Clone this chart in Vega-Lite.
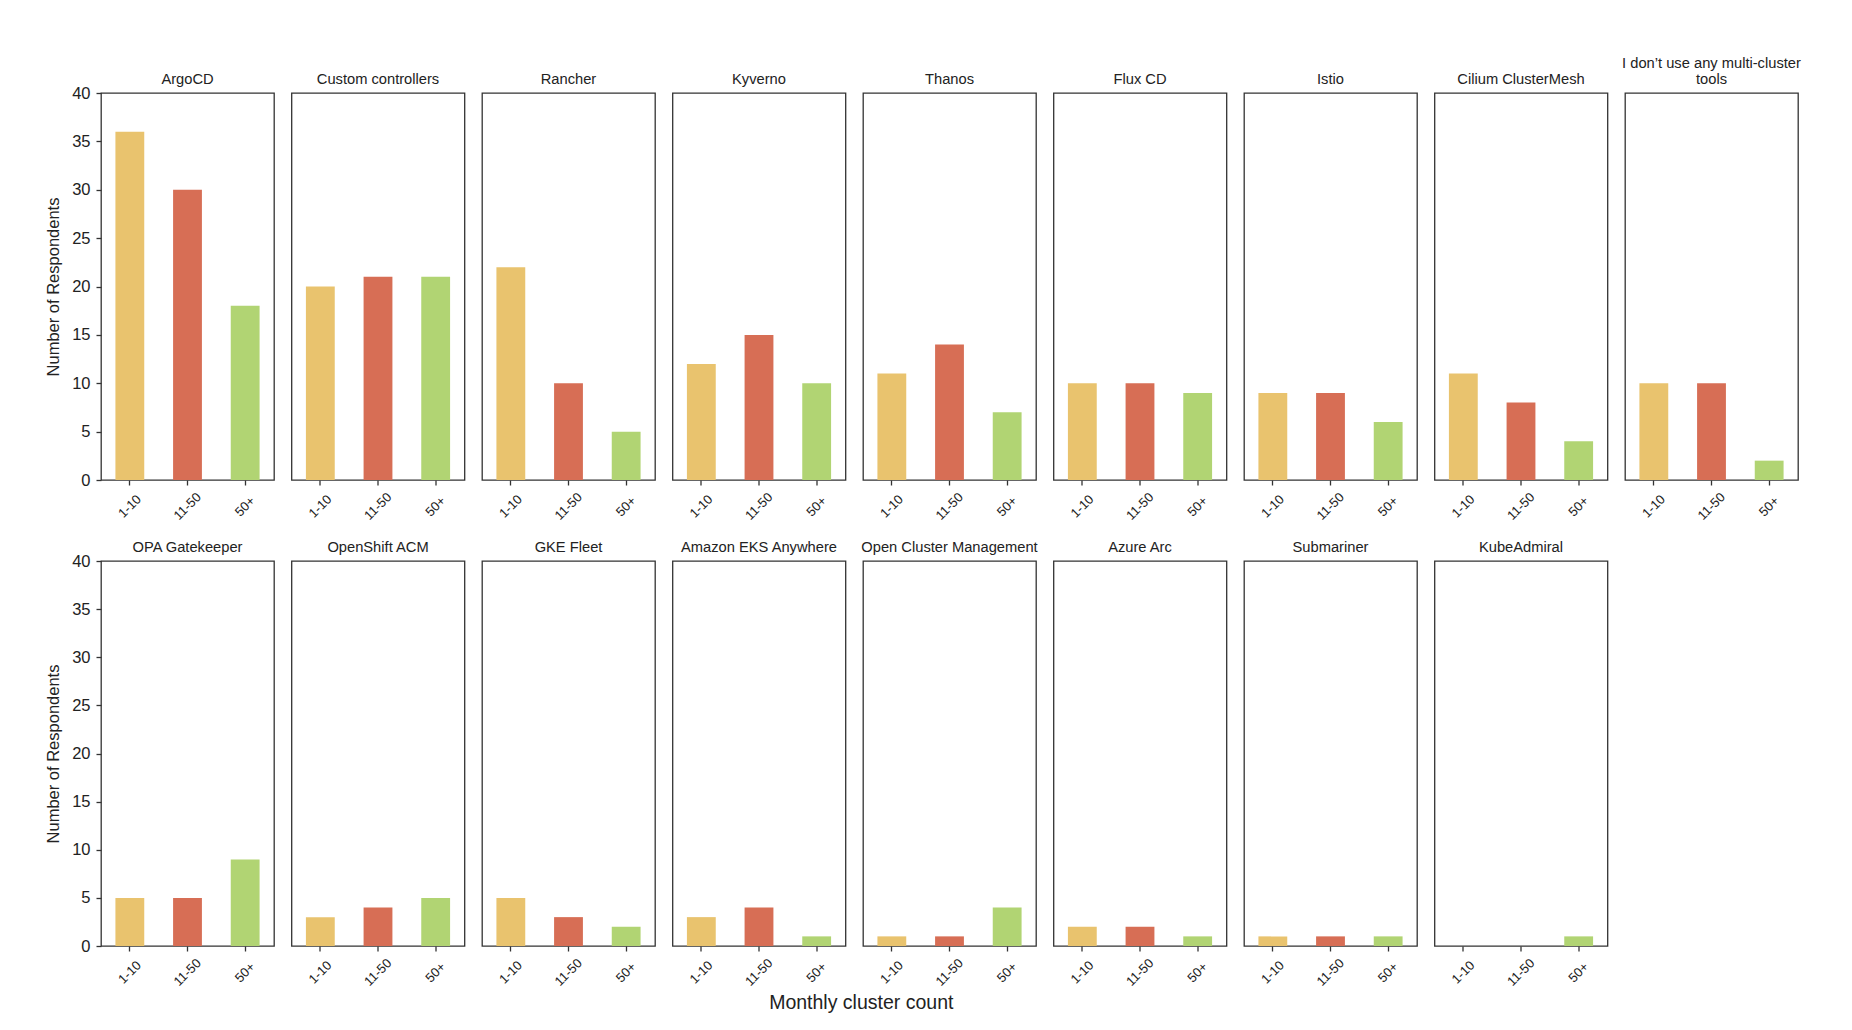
{
  "$schema": "https://vega.github.io/schema/vega-lite/v6.json",
  "padding": {"top": 55, "left": 45, "right": 5, "bottom": 5},
  "background": "white",
  "data": {"values": [
    {"row": 1, "tool": "ArgoCD", "size": "1-10", "n": 36},
    {"row": 1, "tool": "ArgoCD", "size": "11-50", "n": 30},
    {"row": 1, "tool": "ArgoCD", "size": "50+", "n": 18},
    {"row": 1, "tool": "Custom controllers", "size": "1-10", "n": 20},
    {"row": 1, "tool": "Custom controllers", "size": "11-50", "n": 21},
    {"row": 1, "tool": "Custom controllers", "size": "50+", "n": 21},
    {"row": 1, "tool": "Rancher", "size": "1-10", "n": 22},
    {"row": 1, "tool": "Rancher", "size": "11-50", "n": 10},
    {"row": 1, "tool": "Rancher", "size": "50+", "n": 5},
    {"row": 1, "tool": "Kyverno", "size": "1-10", "n": 12},
    {"row": 1, "tool": "Kyverno", "size": "11-50", "n": 15},
    {"row": 1, "tool": "Kyverno", "size": "50+", "n": 10},
    {"row": 1, "tool": "Thanos", "size": "1-10", "n": 11},
    {"row": 1, "tool": "Thanos", "size": "11-50", "n": 14},
    {"row": 1, "tool": "Thanos", "size": "50+", "n": 7},
    {"row": 1, "tool": "Flux CD", "size": "1-10", "n": 10},
    {"row": 1, "tool": "Flux CD", "size": "11-50", "n": 10},
    {"row": 1, "tool": "Flux CD", "size": "50+", "n": 9},
    {"row": 1, "tool": "Istio", "size": "1-10", "n": 9},
    {"row": 1, "tool": "Istio", "size": "11-50", "n": 9},
    {"row": 1, "tool": "Istio", "size": "50+", "n": 6},
    {"row": 1, "tool": "Cilium ClusterMesh", "size": "1-10", "n": 11},
    {"row": 1, "tool": "Cilium ClusterMesh", "size": "11-50", "n": 8},
    {"row": 1, "tool": "Cilium ClusterMesh", "size": "50+", "n": 4},
    {"row": 1, "tool": "I don’t use any multi-cluster tools", "size": "1-10", "n": 10},
    {"row": 1, "tool": "I don’t use any multi-cluster tools", "size": "11-50", "n": 10},
    {"row": 1, "tool": "I don’t use any multi-cluster tools", "size": "50+", "n": 2},
    {"row": 2, "tool": "OPA Gatekeeper", "size": "1-10", "n": 5},
    {"row": 2, "tool": "OPA Gatekeeper", "size": "11-50", "n": 5},
    {"row": 2, "tool": "OPA Gatekeeper", "size": "50+", "n": 9},
    {"row": 2, "tool": "OpenShift ACM", "size": "1-10", "n": 3},
    {"row": 2, "tool": "OpenShift ACM", "size": "11-50", "n": 4},
    {"row": 2, "tool": "OpenShift ACM", "size": "50+", "n": 5},
    {"row": 2, "tool": "GKE Fleet", "size": "1-10", "n": 5},
    {"row": 2, "tool": "GKE Fleet", "size": "11-50", "n": 3},
    {"row": 2, "tool": "GKE Fleet", "size": "50+", "n": 2},
    {"row": 2, "tool": "Amazon EKS Anywhere", "size": "1-10", "n": 3},
    {"row": 2, "tool": "Amazon EKS Anywhere", "size": "11-50", "n": 4},
    {"row": 2, "tool": "Amazon EKS Anywhere", "size": "50+", "n": 1},
    {"row": 2, "tool": "Open Cluster Management", "size": "1-10", "n": 1},
    {"row": 2, "tool": "Open Cluster Management", "size": "11-50", "n": 1},
    {"row": 2, "tool": "Open Cluster Management", "size": "50+", "n": 4},
    {"row": 2, "tool": "Azure Arc", "size": "1-10", "n": 2},
    {"row": 2, "tool": "Azure Arc", "size": "11-50", "n": 2},
    {"row": 2, "tool": "Azure Arc", "size": "50+", "n": 1},
    {"row": 2, "tool": "Submariner", "size": "1-10", "n": 1},
    {"row": 2, "tool": "Submariner", "size": "11-50", "n": 1},
    {"row": 2, "tool": "Submariner", "size": "50+", "n": 1},
    {"row": 2, "tool": "KubeAdmiral", "size": "1-10", "n": 0},
    {"row": 2, "tool": "KubeAdmiral", "size": "11-50", "n": 0},
    {"row": 2, "tool": "KubeAdmiral", "size": "50+", "n": 1}
  ]},
  "vconcat": [
    {
      "transform": [{"filter": "datum.row == 1"}],
      "facet": {"column": {"field": "tool", "type": "nominal",
        "sort": ["ArgoCD", "Custom controllers", "Rancher", "Kyverno", "Thanos", "Flux CD", "Istio", "Cilium ClusterMesh", "I don’t use any multi-cluster tools"],
        "header": {"title": null, "labelExpr": "datum.value == 'I don’t use any multi-cluster tools' ? ['I don’t use any multi-cluster', 'tools'] : datum.value"}}},
      "spacing": 17.5,
      "bounds": "flush",
      "spec": {
        "width": 173, "height": 387,
        "mark": {"type": "bar"},
        "encoding": {
          "x": {"field": "size", "type": "nominal", "sort": ["1-10", "11-50", "50+"],
            "scale": {"paddingInner": 0.5, "paddingOuter": 0.25},
            "axis": {"title": null, "labelAngle": -45, "labelAlign": "center", "labelBaseline": "middle", "labelPadding": 21, "labelFontSize": 13}},
          "y": {"field": "n", "type": "quantitative", "scale": {"domain": [0, 40], "nice": false},
            "axis": {"values": [0, 5, 10, 15, 20, 25, 30, 35, 40], "title": "Number of Respondents", "labelFontSize": 16.5, "titleFontSize": 16.5, "labelPadding": 6, "titlePadding": 10}},
          "color": {"field": "size", "type": "nominal", "scale": {"domain": ["1-10", "11-50", "50+"], "range": ["#E9C36E", "#D76E55", "#B1D473"]}, "legend": null}
        }
      }
    },
    {
      "transform": [{"filter": "datum.row == 2"}],
      "facet": {"column": {"field": "tool", "type": "nominal",
        "sort": ["OPA Gatekeeper", "OpenShift ACM", "GKE Fleet", "Amazon EKS Anywhere", "Open Cluster Management", "Azure Arc", "Submariner", "KubeAdmiral"],
        "header": {"title": null}}},
      "spacing": 17.5,
      "bounds": "flush",
      "spec": {
        "width": 173, "height": 385,
        "mark": {"type": "bar"},
        "encoding": {
          "x": {"field": "size", "type": "nominal", "sort": ["1-10", "11-50", "50+"],
            "scale": {"paddingInner": 0.5, "paddingOuter": 0.25},
            "axis": {"title": null, "labelAngle": -45, "labelAlign": "center", "labelBaseline": "middle", "labelPadding": 21, "labelFontSize": 13}},
          "y": {"field": "n", "type": "quantitative", "scale": {"domain": [0, 40], "nice": false},
            "axis": {"values": [0, 5, 10, 15, 20, 25, 30, 35, 40], "title": "Number of Respondents", "labelFontSize": 16.5, "titleFontSize": 16.5, "labelPadding": 6, "titlePadding": 10}},
          "color": {"field": "size", "type": "nominal", "scale": {"domain": ["1-10", "11-50", "50+"], "range": ["#E9C36E", "#D76E55", "#B1D473"]}, "legend": null}
        }
      }
    }
  ],
  "spacing": 17,
  "title": {"text": "Monthly cluster count", "orient": "bottom", "anchor": "middle", "dx": -62, "offset": 6, "fontSize": 19.5, "font": "Liberation Sans", "fontWeight": "normal", "color": "#222"},
  "config": {
    "font": "Liberation Sans",
    "view": {"stroke": "#333", "strokeWidth": 1.3},
    "axis": {"grid": false, "domain": false, "tickColor": "#333", "tickWidth": 1.3, "tickSize": 5, "labelColor": "#222", "titleColor": "#222", "labelFont": "Liberation Sans", "titleFont": "Liberation Sans", "titleFontWeight": "normal"},
    "header": {"labelFont": "Liberation Sans", "labelFontSize": 14.7, "labelColor": "#222", "labelPadding": 6}
  }
}
